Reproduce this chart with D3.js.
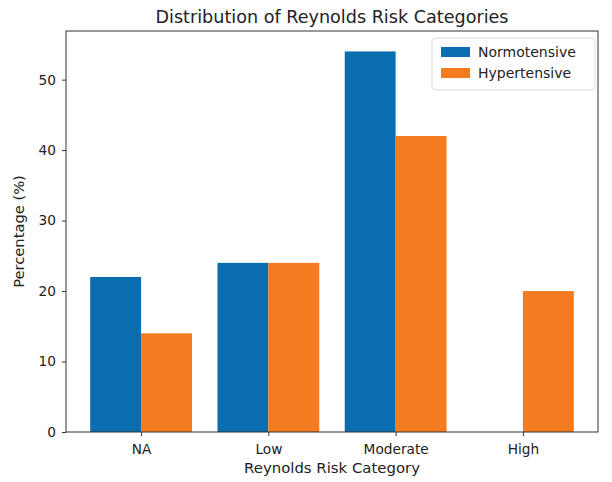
<!DOCTYPE html>
<html><head><meta charset="utf-8">
<script src="https://cdn.jsdelivr.net/npm/d3@7"></script>
<style>body{margin:0;background:#fff}svg{display:block}text{font-family:"DejaVu Sans",sans-serif;fill:#222}</style>
</head><body><svg id="c" width="612" height="482"></svg>
<script>
const categories = ["NA", "Low", "Moderate", "High"];
const seriesNames = ["Normotensive", "Hypertensive"];
const normotensive = [22, 24, 54, 0];
const hypertensive = [14, 24, 42, 20];
const yTicks = [0, 10, 20, 30, 40, 50];
const colors = ["#0a6db0", "#f47c20"];

const svg = d3.select("#c");
const L = 66, R = 598, T = 31, B = 432;
const x = d3.scaleLinear().domain([-0.59, categories.length - 1 + 0.59]).range([L, R]);
const y = d3.scaleLinear().domain([0, 56.9]).range([B, T]);
const w = 0.4;
const series = [normotensive, hypertensive];

series.forEach((vals, s) => {
  svg.append("g").selectAll("rect").data(vals).join("rect")
    .attr("x", (d, i) => x(i - w + s * w))
    .attr("width", x(w) - x(0))
    .attr("y", d => y(d))
    .attr("height", d => y(0) - y(d))
    .attr("fill", colors[s]);
});

const xAxis = d3.axisBottom(x).tickValues(categories.map((c, i) => i)).tickFormat(i => categories[i]).tickSize(4).tickPadding(8);
const gx = svg.append("g").attr("transform", `translate(0,${B})`).call(xAxis);
const yAxis = d3.axisLeft(y).tickValues(yTicks).tickSize(4).tickPadding(6);
const gy = svg.append("g").attr("transform", `translate(${L},0)`).call(yAxis);
[gx, gy].forEach(g => {
  g.select(".domain").remove();
  g.selectAll("line").attr("stroke", "#333").attr("stroke-width", 1);
  g.selectAll("text").style("font-size", "13.7px").attr("fill", "#222");
});
svg.append("rect").attr("x", L).attr("y", T).attr("width", R - L).attr("height", B - T)
  .attr("fill", "none").attr("stroke", "#333").attr("stroke-width", 1);

svg.append("text").attr("x", (L + R) / 2).attr("y", 23).attr("text-anchor", "middle")
  .style("font-size", "17.6px").text("Distribution of Reynolds Risk Categories");
svg.append("text").attr("x", (L + R) / 2).attr("y", 473).attr("text-anchor", "middle")
  .style("font-size", "14.9px").text("Reynolds Risk Category");
svg.append("text").attr("transform", `translate(24,${(T + B) / 2}) rotate(-90)`).attr("text-anchor", "middle")
  .style("font-size", "14.7px").text("Percentage (%)");

const lg = svg.append("g").attr("transform", "translate(432,38)");
lg.append("rect").attr("width", 163).attr("height", 52).attr("rx", 3)
  .attr("fill", "#fff").attr("stroke", "#ddd");
seriesNames.forEach((n, i) => {
  lg.append("rect").attr("x", 9).attr("y", 9 + i * 21).attr("width", 29).attr("height", 10).attr("fill", colors[i]);
  lg.append("text").attr("x", 46).attr("y", 19 + i * 21).style("font-size", "14px").text(n);
});
</script></body></html>
